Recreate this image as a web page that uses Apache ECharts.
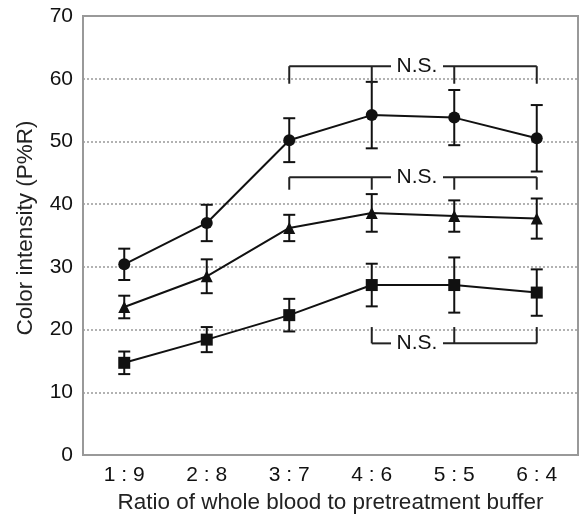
<!DOCTYPE html>
<html>
<head>
<meta charset="utf-8">
<script src="https://cdn.jsdelivr.net/npm/echarts@6/dist/echarts.min.js"></script>
<style>
  html, body { margin: 0; padding: 0; background: #fff; }
  #chart { width: 582px; height: 519px; }
</style>
</head>
<body>
<div id="chart"></div>
<script>
// categories (whole blood : buffer)
const ratios = ['1 : 9', '2 : 8', '3 : 7', '4 : 6', '5 : 5', '6 : 4'];

// means and SDs
const circleMean = [30.4, 37.0, 50.2, 54.2, 53.8, 50.5];
const circleSD = [2.5, 2.9, 3.5, 5.3, 4.4, 5.3];
const triangleMean = [23.6, 28.5, 36.2, 38.6, 38.1, 37.7];
const triangleSD = [1.8, 2.7, 2.1, 3.0, 2.5, 3.2];
const squareMean = [14.7, 18.4, 22.3, 27.1, 27.1, 25.9];
const squareSD = [1.8, 2.0, 2.6, 3.4, 4.4, 3.7];

// N.S. brackets: first / last category, level of the bar, end of the ticks
const nsFrom = [2, 2, 3];
const nsTo = [5, 5, 5];
const nsLevel = [62.0, 44.3, 17.8];
const nsTip = [59.2, 42.3, 20.4];
const nsTextAt = [3.5, 3.5, 3.5];

const font = '"Liberation Sans", Arial, sans-serif';
const ink = '#111';

function errRows(mean, sd) {
  let rows = [];
  for (let i = 0; i < mean.length; i++) {
    rows.push([i, mean[i] - sd[i], mean[i] + sd[i]]);
  }
  return rows;
}

function errorRender(params, api) {
  let x = api.value(0);
  let top = api.coord([x, api.value(2)]);
  let bot = api.coord([x, api.value(1)]);
  let w = 6;
  let st = { stroke: ink, lineWidth: 2 };
  return {
    type: 'group',
    children: [
      { type: 'line', shape: { x1: top[0], y1: top[1], x2: bot[0], y2: bot[1] }, style: st },
      { type: 'line', shape: { x1: top[0] - w, y1: top[1], x2: top[0] + w, y2: top[1] }, style: st },
      { type: 'line', shape: { x1: bot[0] - w, y1: bot[1], x2: bot[0] + w, y2: bot[1] }, style: st }
    ]
  };
}

function bracketRender(params, api) {
  let i = params.dataIndex;
  let from = api.value(0), to = api.value(1), level = api.value(2), tip = api.value(3);
  let st = { stroke: '#222', lineWidth: 2 };
  let a = api.coord([from, level]);
  let b = api.coord([to, level]);
  let t = nsTextAt[i];
  let mid = (api.coord([Math.floor(t), level])[0] + api.coord([Math.ceil(t), level])[0]) / 2 + 4;
  let gap = 26;
  let children = [
    { type: 'line', shape: { x1: a[0], y1: a[1], x2: mid - gap, y2: a[1] }, style: st },
    { type: 'line', shape: { x1: mid + gap, y1: a[1], x2: b[0], y2: b[1] }, style: st },
    {
      type: 'text',
      style: {
        x: mid, y: a[1], text: 'N.S.', fill: ink,
        font: '21px ' + font, align: 'center', verticalAlign: 'middle'
      }
    }
  ];
  for (let k = from; k <= to; k++) {
    let p = api.coord([k, level]);
    let q = api.coord([k, tip]);
    children.push({ type: 'line', shape: { x1: p[0], y1: p[1], x2: q[0], y2: q[1] }, style: st });
  }
  return { type: 'group', children: children };
}

let brackets = [];
for (let i = 0; i < nsFrom.length; i++) {
  brackets.push([nsFrom[i], nsTo[i], nsLevel[i], nsTip[i]]);
}

function lineSeries(name, data, symbol, size) {
  return {
    name: name,
    type: 'line',
    data: data,
    symbol: symbol,
    symbolSize: size,
    z: 5,
    lineStyle: { color: ink, width: 2 },
    itemStyle: { color: ink, borderWidth: 0 },
    animation: false
  };
}

function errSeries(mean, sd) {
  return {
    type: 'custom',
    renderItem: errorRender,
    data: errRows(mean, sd),
    encode: { x: 0, y: [1, 2] },
    z: 4,
    animation: false
  };
}

let chart = echarts.init(document.getElementById('chart'));
let option = {
  animation: false,
  backgroundColor: '#fff',
  grid: {
    left: 83, right: 4, top: 16, bottom: 61,
    show: true, borderColor: '#999', borderWidth: 2
  },
  xAxis: {
    type: 'category',
    data: ratios,
    boundaryGap: true,
    name: 'Ratio of whole blood to pretreatment buffer',
    nameLocation: 'middle',
    nameGap: 36,
    nameTextStyle: { fontFamily: font, fontSize: 22.5, color: '#222' },
    axisLine: { lineStyle: { color: '#999', width: 2 } },
    axisTick: { inside: true, length: 5, lineStyle: { color: '#999', width: 2 } },
    axisLabel: { fontFamily: font, fontSize: 21, color: ink, margin: 10 }
  },
  yAxis: {
    type: 'value',
    min: 0, max: 70, interval: 10,
    name: 'Color intensity (P%R)',
    nameLocation: 'middle',
    nameGap: 46,
    nameTextStyle: { fontFamily: font, fontSize: 22.5, color: '#222', padding: [0, 0, 0, 15] },
    axisLine: { show: true, lineStyle: { color: '#999', width: 2 } },
    axisTick: { show: false },
    axisLabel: { fontFamily: font, fontSize: 21, color: ink, margin: 10 },
    splitLine: { lineStyle: { color: '#999', type: [2, 2], width: 1.5 } }
  },
  series: [
    errSeries(circleMean, circleSD),
    errSeries(triangleMean, triangleSD),
    errSeries(squareMean, squareSD),
    lineSeries('circle', circleMean, 'circle', 12),
    lineSeries('triangle', triangleMean, 'triangle', 12),
    lineSeries('square', squareMean, 'rect', 12),
    {
      type: 'custom',
      renderItem: bracketRender,
      data: brackets,
      encode: { x: [0, 1], y: [2, 3] },
      z: 6,
      animation: false
    }
  ]
};
chart.setOption(option);
</script>
</body>
</html>
